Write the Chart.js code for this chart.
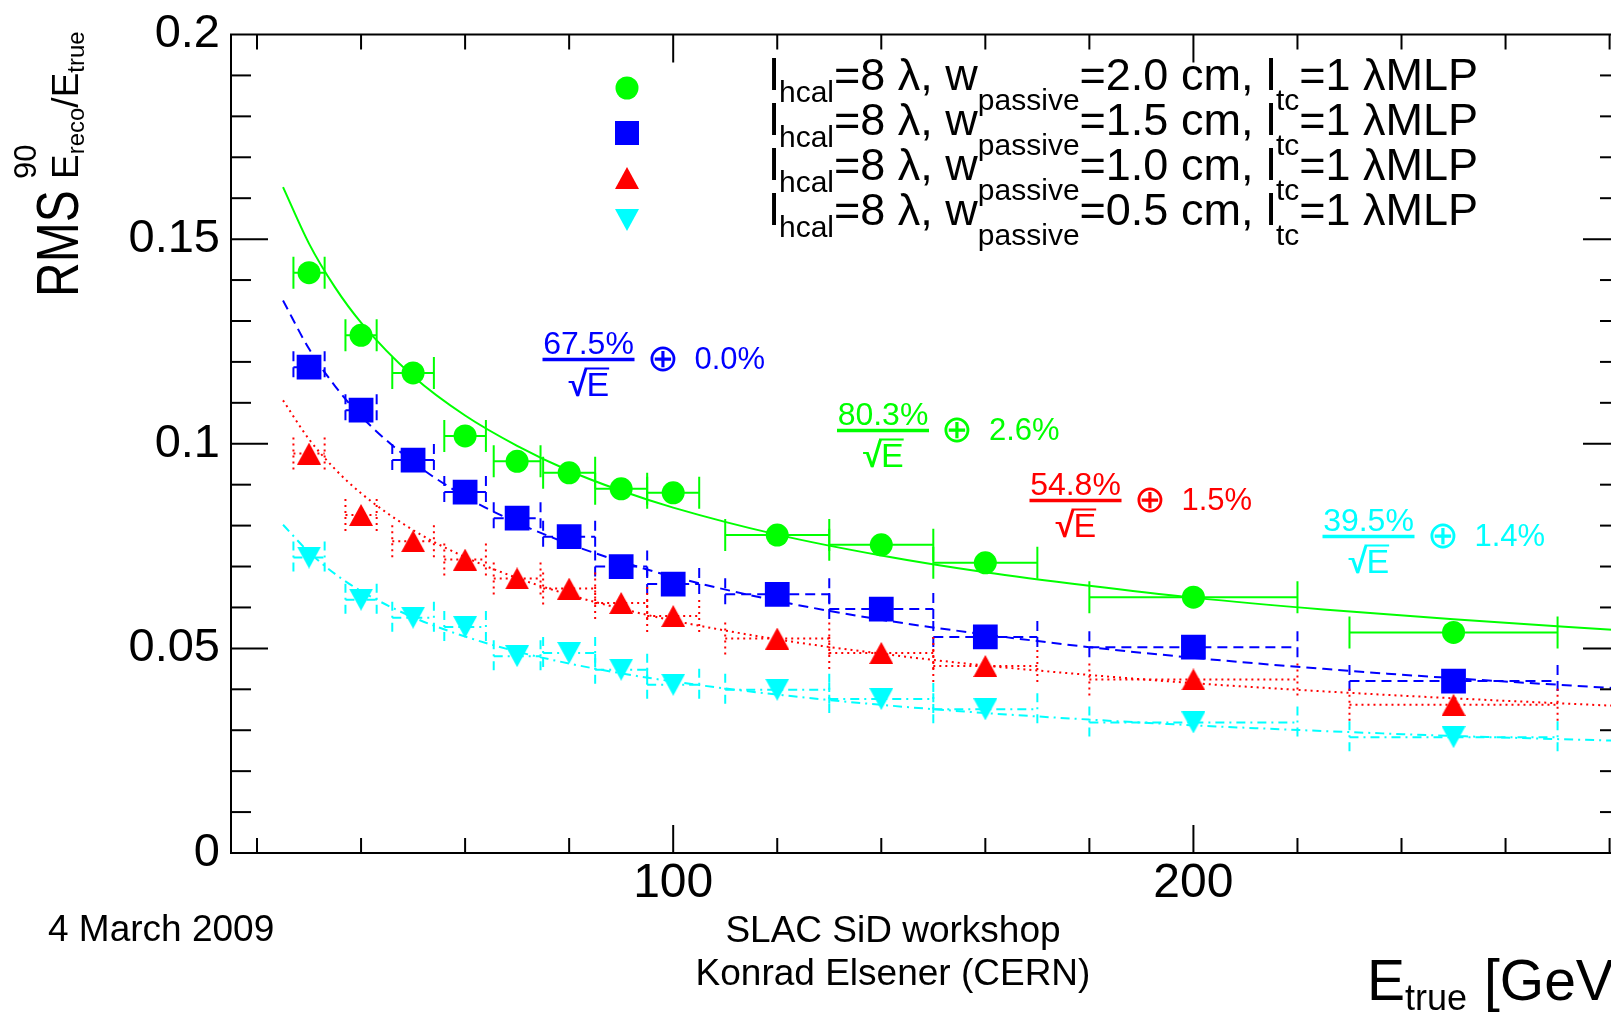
<!DOCTYPE html>
<html>
<head>
<meta charset="utf-8">
<script src="https://cdn.jsdelivr.net/npm/chart.js"></script>
<style>
html, body { margin: 0; padding: 0; background: #fff; overflow: hidden; }
#c { display: block; }
</style>
</head>
<body>
<canvas id="c" width="1660" height="1013"></canvas>
<script>
// beam energies (GeV) and the x error bars (half widths)
var energies = [30, 40, 50, 60, 70, 80, 90, 100, 120, 140, 160, 200, 250];
var energyErr = [3, 3, 4, 4, 4.5, 5, 5, 5, 10, 10, 10, 20, 20];

// RMS90 / E_true, one list per passive thickness
var rms20 = [0.1418, 0.1265, 0.1173, 0.1019, 0.0957, 0.0929, 0.0890, 0.0880, 0.0777, 0.0753, 0.0709, 0.0625, 0.0539];
var rms15 = [0.1187, 0.1082, 0.0960, 0.0882, 0.0818, 0.0773, 0.0700, 0.0657, 0.0632, 0.0596, 0.0528, 0.0503, 0.0420];
var rms10 = [0.0976, 0.0826, 0.0762, 0.0717, 0.0671, 0.0646, 0.0611, 0.0579, 0.0524, 0.0489, 0.0457, 0.0424, 0.0362];
var rms05 = [0.0722, 0.0619, 0.0575, 0.0552, 0.0481, 0.0489, 0.0448, 0.0411, 0.0399, 0.0376, 0.0351, 0.0319, 0.0283];

// fit curves at these energies
var fitE  = [25, 30, 35, 40, 50, 60, 70, 80, 90, 100, 120, 140, 160, 180, 200, 225, 250, 282];
var fit20 = [0.1627, 0.1489, 0.1382, 0.1296, 0.1165, 0.1069, 0.0995, 0.0934, 0.0885, 0.0844, 0.0778, 0.0727, 0.0686, 0.0653, 0.0624, 0.0595, 0.0571, 0.0544];
var fit15 = [0.1350, 0.1232, 0.1141, 0.1067, 0.0955, 0.0871, 0.0807, 0.0755, 0.0712, 0.0675, 0.0616, 0.0570, 0.0534, 0.0503, 0.0477, 0.0450, 0.0427, 0.0402];
var fit10 = [0.1106, 0.1011, 0.0938, 0.0879, 0.0789, 0.0723, 0.0672, 0.0631, 0.0597, 0.0568, 0.0522, 0.0487, 0.0458, 0.0435, 0.0415, 0.0395, 0.0378, 0.0359];
var fit05 = [0.0802, 0.0735, 0.0682, 0.0640, 0.0576, 0.0529, 0.0492, 0.0463, 0.0439, 0.0419, 0.0387, 0.0362, 0.0342, 0.0326, 0.0312, 0.0298, 0.0286, 0.0274];

// fit results shown as a/sqrt(E) (+) b
var fitStoch = ['80.3%', '67.5%', '54.8%', '39.5%'];
var fitConst = ['2.6%', '0.0%', '1.5%', '1.4%'];
var passive = ['2.0', '1.5', '1.0', '0.5'];

var xTickValues = [100, 200];
var yTickValues = [0, 0.05, 0.1, 0.15, 0.2];
var yTickLabels = ['0', '0.05', '0.1', '0.15', '0.2'];

var FONT = '"Liberation Sans", Arial, Helvetica, sans-serif';

function triangle(color, up) {
  var cv = document.createElement('canvas');
  cv.width = 24; cv.height = 22;
  var c = cv.getContext('2d');
  c.fillStyle = color;
  c.beginPath();
  if (up) { c.moveTo(12, 0); c.lineTo(24, 22); c.lineTo(0, 22); }
  else { c.moveTo(0, 0); c.lineTo(24, 0); c.lineTo(12, 22); }
  c.closePath();
  c.fill();
  return cv;
}

var series = [
  { data: rms20, fit: fit20, color: '#00ff00', dash: [],           marker: 'circle', radius: 11.5 },
  { data: rms15, fit: fit15, color: '#0000ff', dash: [10, 6],      marker: 'rect',   radius: 17.5 },
  { data: rms10, fit: fit10, color: '#ff0000', dash: [2, 4],       marker: triangle('#ff0000', true),  radius: 11 },
  { data: rms05, fit: fit05, color: '#00ffff', dash: [9, 5, 2, 5], marker: triangle('#00ffff', false), radius: 11 }
];
// where the a/sqrt(E) labels sit: left edge of fraction bar, bar height
var fitLabelPos = [[837, 430.5], [542.5, 359.5], [1029.5, 500.5], [1322.5, 536.5]];

var datasets = [];
series.forEach(function (s) {
  datasets.push({
    data: energies.map(function (e, i) { return { x: e, y: s.data[i] }; }),
    showLine: false,
    pointStyle: s.marker,
    pointRadius: s.radius,
    pointBackgroundColor: s.color,
    pointBorderWidth: 0,
    order: 0
  });
});
series.forEach(function (s) {
  datasets.push({
    data: fitE.map(function (e, i) { return { x: e, y: s.fit[i] }; }),
    showLine: true,
    pointRadius: 0,
    borderColor: s.color,
    borderWidth: 2,
    borderDash: s.dash,
    cubicInterpolationMode: 'monotone',
    order: 1
  });
});

function line(ctx, x1, y1, x2, y2) {
  ctx.beginPath(); ctx.moveTo(x1, y1); ctx.lineTo(x2, y2); ctx.stroke();
}

// text made of pieces, some of them lowered (subscripts)
function pieces(ctx, parts, x, y) {
  parts.forEach(function (p) {
    ctx.font = p[1] + 'px ' + FONT;
    ctx.fillText(p[0], x, y + (p[2] || 0));
    x += ctx.measureText(p[0]).width;
  });
  return x;
}

var errorBars = {
  id: 'errorBars',
  beforeDatasetsDraw: function (chart) {
    var ctx = chart.ctx, xs = chart.scales.x, ys = chart.scales.y, a = chart.chartArea;
    ctx.save();
    ctx.beginPath(); ctx.rect(a.left, a.top, a.right - a.left, a.bottom - a.top); ctx.clip();
    ctx.lineWidth = 2;
    series.forEach(function (s) {
      ctx.strokeStyle = s.color;
      ctx.setLineDash(s.dash);
      energies.forEach(function (e, i) {
        var py = ys.getPixelForValue(s.data[i]);
        var x1 = xs.getPixelForValue(e - energyErr[i]);
        var x2 = xs.getPixelForValue(e + energyErr[i]);
        line(ctx, x1, py, x2, py);
        line(ctx, x1, py - 16, x1, py + 16);
        line(ctx, x2, py - 16, x2, py + 16);
      });
    });
    ctx.restore();
  }
};

var decorations = {
  id: 'decorations',
  afterDraw: function (chart) {
    var ctx = chart.ctx, xs = chart.scales.x, ys = chart.scales.y, a = chart.chartArea;
    ctx.save();
    ctx.strokeStyle = '#000';
    ctx.fillStyle = '#000';
    ctx.lineWidth = 2;
    ctx.strokeRect(a.left, a.top, a.right - a.left, a.bottom - a.top);

    // ticks on all four sides
    for (var v = 20; v < 282; v += 20) {
      var px = xs.getPixelForValue(v);
      var len = (v % 100 === 0) ? 28 : 15;
      line(ctx, px, a.bottom, px, a.bottom - len);
      line(ctx, px, a.top, px, a.top + len);
    }
    for (var k = 1; k < 20; k++) {
      var py = ys.getPixelForValue(k / 100);
      var l2 = (k % 5 === 0) ? 37 : 20;
      line(ctx, a.left, py, a.left + l2, py);
      line(ctx, a.right, py, a.right - l2, py);
    }

    // legend
    var ly = [88, 133, 178, 220];
    series.forEach(function (s, i) {
      ctx.fillStyle = s.color;
      if (s.marker === 'circle') {
        ctx.beginPath(); ctx.arc(627, ly[i], 11.5, 0, Math.PI * 2); ctx.fill();
      } else if (s.marker === 'rect') {
        ctx.fillRect(627 - 12, ly[i] - 12, 24, 24);
      } else {
        ctx.drawImage(s.marker, 627 - 12, ly[i] - 11);
      }
      ctx.fillStyle = '#000';
      ctx.textBaseline = 'alphabetic';
      ctx.textAlign = 'left';
      pieces(ctx, [['l', 45], ['hcal', 30, 12], ['=8 \u03bb, w', 45], ['passive', 30, 20],
        ['=' + passive[i] + ' cm, l', 45], ['tc', 30, 20], ['=1 \u03bbMLP', 45]], 769, 90 + 45 * i);
    });

    // fit results
    series.forEach(function (s, i) {
      var L = fitLabelPos[i][0], B = fitLabelPos[i][1];
      ctx.fillStyle = s.color;
      ctx.strokeStyle = s.color;
      ctx.setLineDash([]);
      ctx.font = '32px ' + FONT;
      ctx.textAlign = 'center';
      ctx.textBaseline = 'alphabetic';
      ctx.fillText(fitStoch[i], L + 46, B - 6);
      ctx.lineWidth = 3.5;
      line(ctx, L, B, L + 92, B);
      ctx.font = '34px ' + FONT;
      ctx.textAlign = 'left';
      var rw = ctx.measureText('\u221a').width;
      var ew = ctx.measureText('E').width;
      var sx = L + 46 - (rw + ew) / 2;
      ctx.fillText('\u221a', sx, B + 36);
      ctx.fillText('\u221a', sx + 1, B + 36);
      ctx.fillText('E', sx + rw, B + 36);
      ctx.lineWidth = 2;
      line(ctx, sx + rw - 2, B + 9, sx + rw + ew, B + 9);
      ctx.font = '38px ' + FONT;
      ctx.textBaseline = 'middle';
      ctx.fillText('\u2295', L + 104, B + 1);
      ctx.font = '31px ' + FONT;
      ctx.fillText(fitConst[i], L + 152, B + 1);
    });

    // y title
    ctx.fillStyle = '#000';
    ctx.textBaseline = 'alphabetic';
    ctx.textAlign = 'left';
    ctx.save();
    ctx.translate(78, 297);
    ctx.rotate(-Math.PI / 2);
    ctx.save();
    ctx.scale(0.8, 1);
    ctx.font = '60px ' + FONT;
    ctx.fillText('RMS', 0, 0);
    ctx.restore();
    ctx.font = '31px ' + FONT;
    ctx.fillText('90', 118, -42);
    pieces(ctx, [['E', 37], ['reco', 24, 6], ['/E', 37], ['true', 24, 6]], 118, 0);
    ctx.restore();

    // x title
    pieces(ctx, [['E', 57], ['true', 36, 10]], 1367, 1000);
    ctx.font = '57px ' + FONT;
    ctx.fillText('[GeV]', 1484, 1000);

    // footer
    ctx.font = '37px ' + FONT;
    ctx.fillText('4 March 2009', 48, 941);
    ctx.textAlign = 'center';
    ctx.fillText('SLAC SiD workshop', 893, 942);
    ctx.fillText('Konrad Elsener (CERN)', 893, 985);
    ctx.restore();
  }
};

new Chart(document.getElementById('c'), {
  type: 'scatter',
  data: { datasets: datasets },
  options: {
    responsive: false,
    animation: false,
    devicePixelRatio: 1,
    layout: { padding: { top: 30, right: 40, left: 0, bottom: 0 } },
    plugins: { legend: { display: false }, tooltip: { enabled: false } },
    scales: {
      x: {
        type: 'linear', min: 15, max: 282,
        grid: { display: false, drawTicks: false },
        border: { display: false },
        afterBuildTicks: function (s) { s.ticks = xTickValues.map(function (v) { return { value: v }; }); },
        afterFit: function (s) { s.height = 160; },
        ticks: { color: '#000', padding: 7, font: { family: FONT, size: 48, lineHeight: 1 } }
      },
      y: {
        type: 'linear', min: 0, max: 0.2,
        grid: { display: false, drawTicks: false },
        border: { display: false },
        afterBuildTicks: function (s) { s.ticks = yTickValues.map(function (v) { return { value: v }; }); },
        afterFit: function (s) { s.width = 231; },
        ticks: {
          color: '#000', padding: 11, font: { family: FONT, size: 47, lineHeight: 1 },
          callback: function (v, i) { return yTickLabels[i]; }
        }
      }
    }
  },
  plugins: [errorBars, decorations]
});
</script>
</body>
</html>
